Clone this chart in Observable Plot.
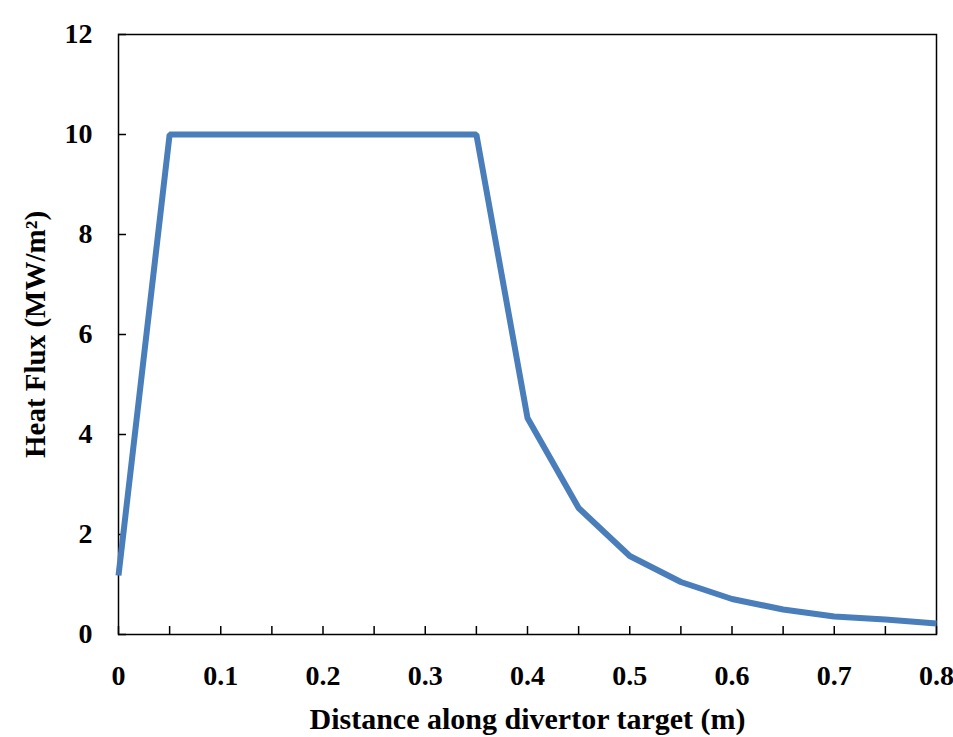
<!DOCTYPE html>
<html>
<head>
<meta charset="utf-8">
<script src="https://cdn.jsdelivr.net/npm/d3@7"></script>
<script src="https://cdn.jsdelivr.net/npm/@observablehq/plot@0.6"></script>
<style>
  html, body { margin: 0; padding: 0; background: #fff; }
  #chart svg { display: block; }
</style>
</head>
<body>
<div id="chart"></div>
<script>
const distance = [0, 0.05, 0.1, 0.15, 0.2, 0.25, 0.3, 0.35, 0.4, 0.45, 0.5, 0.55, 0.6, 0.65, 0.7, 0.75, 0.8];
const heatFlux = [1.18, 10, 10, 10, 10, 10, 10, 10, 4.33, 2.53, 1.57, 1.05, 0.71, 0.5, 0.36, 0.3, 0.22];
const xTicks = [0, 0.1, 0.2, 0.3, 0.4, 0.5, 0.6, 0.7, 0.8];
const xTickLabels = ["0", "0.1", "0.2", "0.3", "0.4", "0.5", "0.6", "0.7", "0.8"];
const xMinorTicks = [0, 0.05, 0.1, 0.15, 0.2, 0.25, 0.3, 0.35, 0.4, 0.45, 0.5, 0.55, 0.6, 0.65, 0.7, 0.75, 0.8];
const yTicks = [0, 2, 4, 6, 8, 10, 12];
const yTickLabels = ["0", "2", "4", "6", "8", "10", "12"];
const xTitle = "Distance along divertor target (m)";
const yTitle = "Heat Flux (MW/m²)";

const data = distance.map((d, i) => ({x: d, y: heatFlux[i]}));
const fontFam = "'Liberation Serif', 'Times New Roman', serif";

const chart = Plot.plot({
  width: 953,
  height: 737,
  marginLeft: 118,
  marginRight: 17,
  marginTop: 34,
  marginBottom: 103,
  style: {fontFamily: fontFam, fontWeight: "bold", fontSize: "28px", color: "#000", background: "#fff"},
  x: {domain: [0, 0.8]},
  y: {domain: [0, 12]},
  marks: [
    Plot.frame({stroke: "#000", strokeWidth: 1.5}),
    Plot.axisX(xMinorTicks, {tickSize: -8, tickFormat: () => "", strokeWidth: 1.5, label: null}),
    Plot.axisX(xTicks, {tickSize: 0, tickPadding: 31, tickFormat: (d, i) => xTickLabels[i], label: null, fontSize: 28, fontWeight: "bold"}),
    Plot.axisY(yTicks, {tickSize: -8, tickPadding: 34, strokeWidth: 1.5, tickFormat: (d, i) => yTickLabels[i], label: null, fontSize: 28, fontWeight: "bold"}),
    Plot.text([xTitle], {frameAnchor: "bottom", lineAnchor: "middle", dy: 85, text: d => d, fontSize: 30, fontWeight: "bold"}),
    Plot.text([yTitle], {frameAnchor: "left", textAnchor: "middle", lineAnchor: "middle", dx: -83, rotate: -90, text: d => d, fontSize: 29, fontWeight: "bold"}),
    Plot.line(data, {x: "x", y: "y", stroke: "#4a7ebb", strokeWidth: 6, strokeLinejoin: "miter", strokeLinecap: "butt"})
  ]
});
document.getElementById("chart").appendChild(chart);
</script>
</body>
</html>
